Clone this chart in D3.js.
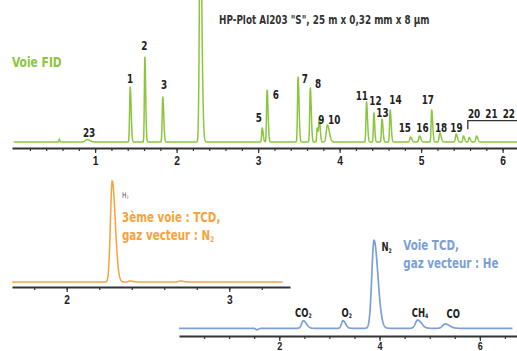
<!DOCTYPE html>
<html>
<head>
<meta charset="utf-8">
<script src="https://cdnjs.cloudflare.com/ajax/libs/d3/7.8.5/d3.min.js"></script>
<style>
	body { margin: 0; background: #fff; }
	svg { display: block; font-family: "Liberation Sans Narrow", "DejaVu Sans Condensed", "Roboto", sans-serif; font-weight: bold; }
</style>
</head>
<body>
<svg></svg>
<script>
// FID channel : peaks (retention time in min, height, width)
var fid_times   = [0.56, 0.90, 1.43, 1.61, 1.83, 2.29, 3.05, 3.11, 3.49, 3.64, 3.725, 3.75, 3.85, 4.33, 4.42, 4.52, 4.62, 4.87, 4.98, 5.13, 5.23, 5.43, 5.52, 5.59, 5.68];
var fid_heights = [3, 2.5, 55, 85, 45, 230, 14, 52, 65, 54, 14, 23, 17, 40, 29, 23, 32, 5, 6, 32, 9, 8, 6, 4.5, 6];
var fid_widths  = [0.004, 0.02, 0.007, 0.006, 0.007, 0.011, 0.007, 0.007, 0.007, 0.007, 0.006, 0.007, 0.014, 0.007, 0.006, 0.007, 0.007, 0.009, 0.009, 0.007, 0.009, 0.009, 0.008, 0.008, 0.009];

// FID peak labels (time, signal of label centre)
var fid_labels   = ["23", "1", "2", "3", "5", "6", "7", "8", "9", "10", "11", "12", "13", "14", "15", "16", "17", "18", "19", "20", "21", "22"];
var fid_label_t  = [0.926, 1.429, 1.605, 1.847, 3.01, 3.217, 3.573, 3.736, 3.777, 3.933, 4.272, 4.439, 4.525, 4.685, 4.80, 5.016, 5.082, 5.245, 5.433, 5.65, 5.862, 6.076];
var fid_label_v  = [9.3, 63, 96.3, 57.7, 24.7, 47, 63, 58, 22.7, 22, 46.3, 41.3, 29.2, 42, 14.7, 14.7, 42, 14.7, 14.3, 28.7, 28.7, 28.7];

// TCD channel, N2 carrier
var tcd_n2_times   = [2.28, 2.39, 2.70];
var tcd_n2_heights = [101, 1, 1];
var tcd_n2_widths  = [0.011, 0.01, 0.01];

// TCD channel, He carrier
var tcd_he_times   = [1.55, 2.48, 3.27, 3.89, 4.76, 5.31];
var tcd_he_heights = [-1.5, 7.6, 7.6, 88, 8.3, 4.3];
var tcd_he_widths  = [0.02, 0.035, 0.03, 0.045, 0.045, 0.05];
var tcd_he_labels  = [["CO", "2"], ["O", "2"], ["N", "2"], ["CH", "4"], ["CO", ""]];
var tcd_he_label_t = [2.479, 3.344, 4.142, 4.806, 5.47];
var tcd_he_label_v = [15.6, 15.6, 81, 15.6, 14.3];

var green = "#8cc63f", orange = "#f6a33b", blue = "#7c9fd6", ink = "#222";

var svg = d3.select("svg")
	.attr("width", 517)
	.attr("height", 351);

// sum of tailing gaussian peaks
function trace(times, heights, widths, t0, t1, step)
{
	var pts = [];
	for (var t = t0; t <= t1; t += step) {
		var v = 0;
		for (var i = 0; i < times.length; i++) {
			var d = t - times[i];
			var s = d < 0 ? widths[i] : widths[i] * 1.7;
			v += heights[i] * Math.exp(-d * d / (2 * s * s));
		}
		pts.push([t, v]);
	}
	return pts;
}

function drawAxis(g, x, y0, minor, major, majorLabels, fontSize, pad)
{
	var ax = g.append("g")
		.attr("transform", "translate(0," + y0 + ")");
	ax.call(d3.axisBottom(x).tickValues(minor).tickSize(3).tickSizeOuter(0).tickFormat(""));
	ax.select(".domain").attr("stroke", "#333").attr("stroke-width", 2);
	ax.selectAll(".tick line").attr("stroke", "#333").attr("stroke-width", 1.2);

	var ax2 = g.append("g")
		.attr("transform", "translate(0," + y0 + ")")
		.call(d3.axisBottom(x).tickValues(major).tickSize(5).tickPadding(pad).tickFormat(function(d, i) { return majorLabels[i]; }));
	ax2.select(".domain").remove();
	ax2.selectAll(".tick line").attr("stroke", "#333").attr("stroke-width", 1.2);
	ax2.selectAll("text")
		.attr("fill", ink)
		.attr("font-family", null)
		.attr("font-size", fontSize);
}

function subText(g, x, y, main, sub, size, color, anchor)
{
	var t = g.append("text")
		.attr("x", x)
		.attr("y", y)
		.attr("dy", "0.36em")
		.attr("text-anchor", anchor)
		.attr("font-size", size)
		.attr("fill", color);
	t.append("tspan").text(main);
	if (sub) t.append("tspan").attr("font-size", size * 0.55).attr("dy", "0.25em").text(sub);
	return t;
}

// ---------- FID ----------
var fid = svg.append("g").attr("class", "fid");

var x_fid = d3.scaleLinear().domain([-0.02, 6.18]).range([12, 517.3]);
var y_fid = d3.scaleLinear().domain([0, 142]).range([142, 0]);

fid.append("path")
	.datum(trace(fid_times, fid_heights, fid_widths, 0, 6.2, 0.0015))
	.attr("fill", "none")
	.attr("stroke", green)
	.attr("stroke-width", 1.5)
	.attr("stroke-linejoin", "round")
	.attr("d", d3.line().x(function(d) { return x_fid(d[0]); }).y(function(d) { return y_fid(d[1]); }));

drawAxis(fid, x_fid, 148, d3.range(1, 31).map(function(i) { return i * 0.2; }), [1, 2, 3, 4, 5, 6], ["1", "2", "3", "4", "5", "6"], 12.5, 3);

fid.selectAll(".fid-label")
		.data(fid_labels)
	.enter().append("text")
		.attr("class", "fid-label")
		.attr("x", function(d, i) { return x_fid(fid_label_t[i]); })
		.attr("y", function(d, i) { return y_fid(fid_label_v[i]); })
		.attr("dy", "0.36em")
		.attr("text-anchor", "middle")
		.attr("font-size", 12)
		.attr("fill", ink)
		.text(function(d) { return d; });

// bracket over peaks 20-22
fid.append("path")
	.attr("fill", "none")
	.attr("stroke", "#333")
	.attr("stroke-width", 1.3)
	.attr("d", "M" + x_fid(5.573) + "," + y_fid(12.7) + "V" + y_fid(21.3) + "H" + x_fid(6.2));

fid.append("text")
	.attr("x", 12)
	.attr("y", 62)
	.attr("dy", "0.36em")
	.attr("font-size", 14.5)
	.attr("fill", green)
	.text("Voie FID");

fid.append("text")
	.attr("x", 219)
	.attr("y", 19.5)
	.attr("dy", "0.36em")
	.attr("font-size", 12)
	.attr("fill", "#333")
	.text("HP-Plot Al203 \"S\", 25 m x 0,32 mm x 8 µm");

// ---------- TCD N2 ----------
var tn = svg.append("g").attr("class", "tcd-n2");

var x_tn = d3.scaleLinear().domain([2, 3]).range([66.7, 229.3]);
var y_tn = d3.scaleLinear().domain([0, 101]).range([282, 181]);

tn.append("path")
	.datum(trace(tcd_n2_times, tcd_n2_heights, tcd_n2_widths, x_tn.invert(12), x_tn.invert(282.7), 0.002))
	.attr("fill", "none")
	.attr("stroke", orange)
	.attr("stroke-width", 1.5)
	.attr("d", d3.line().x(function(d) { return x_tn(d[0]); }).y(function(d) { return y_tn(d[1]); }));

var x_tn_axis = x_tn.copy().domain([x_tn.invert(12), x_tn.invert(290)]).range([12, 290]);
drawAxis(tn, x_tn_axis, 287, d3.range(9, 17).map(function(i) { return i * 0.2; }), [2, 3], ["2", "3"], 12.5, 3);

subText(tn, x_tn(2.34), y_tn(87), "H", "2", 8, "#555", "start").attr("font-weight", "normal");
tn.append("text")
	.attr("x", x_tn(2.34))
	.attr("y", y_tn(65.3))
	.attr("dy", "0.36em")
	.attr("font-size", 14)
	.attr("fill", orange)
	.text("3ème voie : TCD,");
subText(tn, x_tn(2.34), y_tn(47), "gaz vecteur : N", "2", 14, orange, "start");

// ---------- TCD He ----------
var th = svg.append("g").attr("class", "tcd-he");

var x_th = d3.scaleLinear().domain([0, 6.735]).range([179, 516.7]);
var y_th = d3.scaleLinear().domain([0, 88]).range([328.3, 240.3]);

th.append("path")
	.datum(trace(tcd_he_times, tcd_he_heights, tcd_he_widths, 0, 6.65, 0.005))
	.attr("fill", "none")
	.attr("stroke", blue)
	.attr("stroke-width", 1.7)
	.attr("d", d3.line().x(function(d) { return x_th(d[0]); }).y(function(d) { return y_th(d[1]); }));

drawAxis(th, x_th, 336, d3.range(1, 14).map(function(i) { return i * 0.5; }), [2, 4, 6], ["2", "4", "6"], 11, 1.5);

tcd_he_labels.forEach(function(d, i) {
	subText(th, x_th(tcd_he_label_t[i]), y_th(tcd_he_label_v[i]), d[0], d[1], 11.5, ink, "middle");
});

th.append("text")
	.attr("x", x_th(4.473))
	.attr("y", y_th(83.3))
	.attr("dy", "0.36em")
	.attr("font-size", 14)
	.attr("fill", blue)
	.text("Voie TCD,");
th.append("text")
	.attr("x", x_th(4.473))
	.attr("y", y_th(65))
	.attr("dy", "0.36em")
	.attr("font-size", 14)
	.attr("fill", blue)
	.text("gaz vecteur : He");

// squeeze every text horizontally round its anchor, to get the narrow face
svg.selectAll("text").each(function() {
	var ax = +d3.select(this).attr("x") || 0;
	d3.select(this).attr("transform", "translate(" + ax + ",0) scale(0.82,1) translate(" + (-ax) + ",0)");
});
</script>
</body>
</html>
